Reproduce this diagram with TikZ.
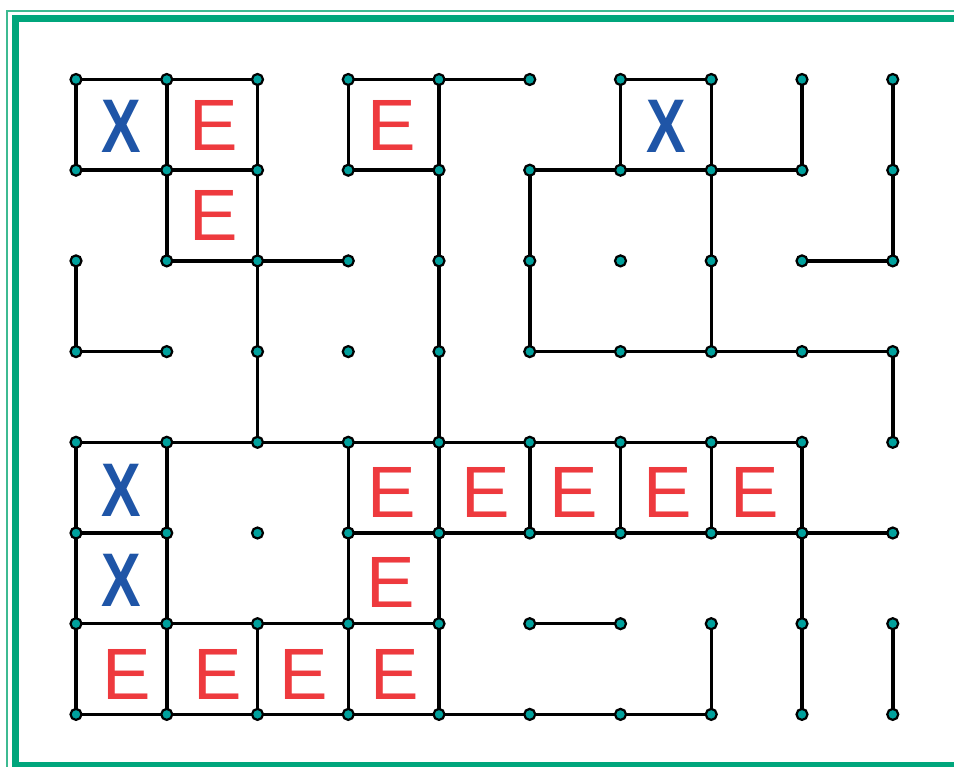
\documentclass[tikz,border=0pt]{standalone}
\usepackage{fontspec}
\setmainfont{Liberation Sans}
\definecolor{frameg}{HTML}{00A67C}
\definecolor{framelt}{HTML}{3DBA92}
\definecolor{dotteal}{HTML}{00A19D}
\definecolor{ered}{HTML}{EE3A3E}
\definecolor{xblue}{HTML}{1F55A7}
\tikzset{
  wall/.style={line width=3.5pt, black, line cap=rect},
  gdot/.style={circle, fill=dotteal, draw=black, line width=2.2pt, minimum size=11pt, inner sep=0pt},
  eletter/.style={text=ered, inner sep=0pt, font=\fontsize{72.7}{80}\selectfont},
  xletter/.style={text=xblue, inner sep=0pt, font=\bfseries\fontsize{76}{84}\selectfont},
}
\begin{document}
\begin{tikzpicture}[x=1pt,y=-1pt]
\useasboundingbox (0,0) rectangle (954,767);
\begin{scope}
  \clip (0,0) rectangle (954,767);
  \fill[white] (0,0) rectangle (954,767);
  \draw[framelt, line width=2.4pt] (7,11) rectangle (1000,820);
  \draw[frameg, line width=7pt] (15,18.5) rectangle (1000,765);
\end{scope}

% grid points
\foreach \c in {0,...,9}{
  \foreach \r in {0,...,7}{
    \coordinate (p-\c-\r) at ({76+90.75*\c},{79.5+90.7*\r});
  }
}
% horizontal walls: row / list of start columns
\foreach \r/\cs in {0/{0,1,3,4,6}, 1/{0,1,3,5,6,7}, 2/{1,2,8}, 3/{0,5,6,7,8},
                    4/{0,1,2,3,4,5,6,7}, 5/{0,3,4,5,6,7,8}, 6/{0,1,2,3,5}, 7/{0,1,2,3,4,5,6}}{
  \foreach \c in \cs {
    \pgfmathtruncatemacro\cn{\c+1}
    \draw[wall] (p-\c-\r) -- (p-\cn-\r);
  }
}
% vertical walls: start row / list of columns
\foreach \r/\cs in {0/{0,1,2,3,4,6,7,8,9}, 1/{1,2,4,5,7,9}, 2/{0,2,4,5,7}, 3/{2,4,9},
                    4/{0,1,3,4,5,6,7,8}, 5/{0,1,3,4,8}, 6/{0,1,2,3,4,7,8,9}}{
  \foreach \c in \cs {
    \pgfmathtruncatemacro\rn{\r+1}
    \draw[wall] (p-\c-\r) -- (p-\c-\rn);
  }
}
% dots
\foreach \c in {0,...,9}{
  \foreach \r in {0,...,7}{
    \node[gdot] (d-\c-\r) at (p-\c-\r) {};
  }
}

% letters E
\node[eletter] (e1) at (213.5,125) {E};
\node[eletter] (e2) at (213.5,215.5) {E};
\node[eletter] (e3) at (391.5,125) {E};
\node[eletter] (e4) at (391.5,492) {E};
\node[eletter] (e5) at (486,492) {E};
\node[eletter] (e6) at (574,492) {E};
\node[eletter] (e7) at (668,492) {E};
\node[eletter] (e8) at (754.5,492) {E};
\node[eletter] (e9) at (391,582.5) {E};
\node[eletter] (e10) at (127,674.5) {E};
\node[eletter] (e11) at (218,674.5) {E};
\node[eletter] (e12) at (304,674.5) {E};
\node[eletter] (e13) at (395,674.5) {E};

% letters X
\node[xletter] (x1) at (121.5,126.5) {\scalebox{0.78}[1]{X}};
\node[xletter] (x2) at (666,126.5) {\scalebox{0.78}[1]{X}};
\node[xletter] (x3) at (121.5,490) {\scalebox{0.78}[1]{X}};
\node[xletter] (x4) at (121.5,580) {\scalebox{0.78}[1]{X}};
\end{tikzpicture}
\end{document}
